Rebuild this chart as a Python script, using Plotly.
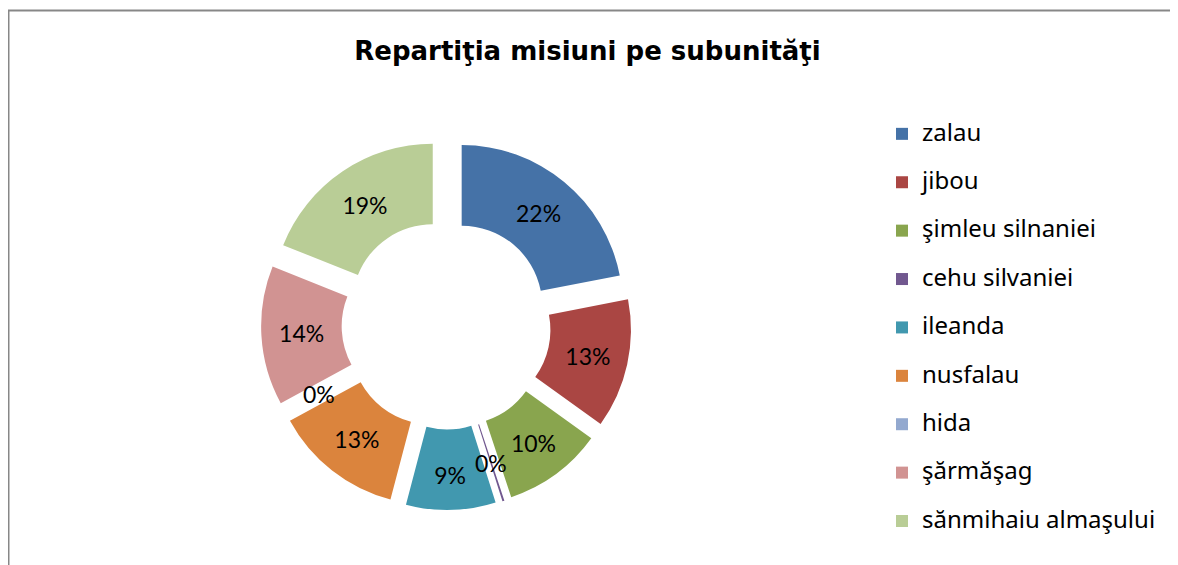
import math
import plotly.graph_objects as go

# date (procente; feliile de 0% au valori foarte mici)
subunitati = ["zalau", "jibou", "şimleu silnaniei", "cehu silvaniei", "ileanda",
              "nusfalau", "hida", "şărmăşag", "sănmihaiu almaşului"]
procente = [22, 13, 10, 0.2, 9, 13, 0.0, 14, 19]
culori = ["#4572A7", "#AA4643", "#89A54E", "#71588F", "#4198AF",
          "#DB843D", "#93A9CF", "#D19392", "#B9CD96"]
titlu = "Repartiţia misiuni pe subunităţi"

# pagina are o margine de 8px in browser; figura incepe la (8, 8)
W, H = 1170, 557
LEG_SIZE = 24     # marimea textului din legenda
LEG_LINE = 17.46  # controleaza distanta dintre intrari (2 randuri)
PULL, HOLE = 0.15, 0.5
LBL_FONT = dict(family="Lato", size=23, color="black")

etichete = ["<span style='font-size:%dpx'>%s</span><br> " % (LEG_SIZE, s) for s in subunitati]

# geometria inelului (pixeli in figura)
cx, cy = 438.3, 316.8
half = 185.2
dom_x = [(cx - half) / W, (cx + half) / W]
dom_y = [(H - cy - half) / H, (H - cy + half) / H]

# feliile prea inguste primesc eticheta ca adnotare, la mijlocul inelului
total = sum(procente)
r = half / (1 + PULL)
texte, adnotari = [], []
cum = 0
for v in procente:
    theta = 2 * math.pi * (cum + v / 2) / total
    cum += v
    if v / total >= 0.02:
        texte.append("%d%%" % round(100 * v / total))
        continue
    texte.append("")
    rad = PULL * r + r * (1 + HOLE) / 2
    x = cx + rad * math.sin(theta)
    y = cy - rad * math.cos(theta)
    adnotari.append(dict(x=x / W, y=1 - y / H, xref="paper", yref="paper",
                         xanchor="center", yanchor="middle",
                         text="%d%%" % round(100 * v / total), showarrow=False,
                         font=LBL_FONT))

fig = go.Figure(go.Pie(
    labels=etichete,
    values=procente,
    text=texte,
    textinfo="text",
    sort=False,
    direction="clockwise",
    rotation=0,
    hole=HOLE,
    pull=PULL,
    marker=dict(colors=culori, line=dict(width=0)),
    textposition="inside",
    insidetextorientation="horizontal",
    textfont=LBL_FONT,
    domain=dict(x=dom_x, y=dom_y),
    hoverinfo="skip",
))

fig.update_layout(
    width=W, height=H,
    margin=dict(l=0, r=0, t=0, b=0),
    paper_bgcolor="white",
    title=dict(text="<b>" + titlu + "</b>", x=579.5 / W, xanchor="center",
               y=1 - 43 / H, yanchor="middle", yref="paper",
               font=dict(family="DejaVu Sans", size=26, color="black")),
    uniformtext=dict(minsize=23, mode="show"),
    legend=dict(x=874 / W, xanchor="left", y=1 - 108 / H, yanchor="top",
                valign="top", font=dict(family="Noto Sans", size=LEG_LINE, color="black"),
                bgcolor="rgba(0,0,0,0)"),
    annotations=adnotari,
    shapes=[dict(type="rect", xref="paper", yref="paper",
                 x0=0.5 / W, x1=1.02, y0=-0.02, y1=1 - 2.5 / H,
                 line=dict(color="#878787", width=2))],
)

fig.write_html("out.html")
